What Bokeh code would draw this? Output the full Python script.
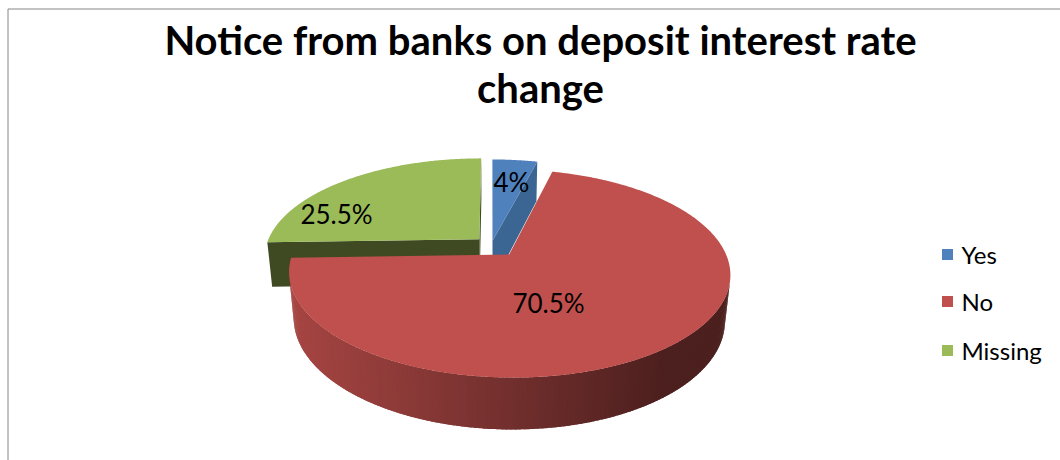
import math
import numpy as np
from bokeh.plotting import figure
from bokeh.models import Range1d
from bokeh.core.properties import value
from bokeh.embed import file_html
from bokeh.resources import INLINE

# ---------------- data ----------------
categories = ["Yes", "No", "Missing"]
percent = [4.0, 70.5, 25.5]
label_text = ["4%", "70.5%", "25.5%"]
title_lines = ["Notice from banks on deposit interest rate", "change"]

# ---------------- styles / layout ----------------
top_colors = ["#4F81BD", "#C0504D", "#9BBB59"]
cut_colors = ["#3B6592", "#8A3532", "#3F4A22"]
explode = [0.04, 0.13, 0.08]
label_xy = [(511, 181), (548, 302), (336, 213)]
legend_x = 947
legend_y = [254, 301, 350]

W, HP = 1060, 460
CX, CY = 491.0, 244.0
SCALE = 213.0
SIN_T = 0.4555
COS_T = math.sqrt(1 - SIN_T ** 2)
DIST = 4.97
THICK = 0.241
FONT = "Lato"


def proj(X, Z, Y):
    X = np.asarray(X, float)
    Z = np.asarray(Z, float)
    Y = np.asarray(Y, float) + 0 * X
    depth = 1.0 + (Z * COS_T - Y * SIN_T) / DIST
    sx = CX + SCALE * X / depth
    sy = CY - SCALE * (Z * SIN_T + Y * COS_T) / depth
    return sx, sy


def hex_scale(h, f):
    h = h.lstrip("#")
    r, g, b = (int(h[i:i + 2], 16) for i in (0, 2, 4))
    return "#%02x%02x%02x" % (int(r * f), int(g * f), int(b * f))


total = float(sum(percent))
bounds = np.concatenate([[0.0], np.cumsum(percent)]) / total * 2 * np.pi

slices = []
for i in range(len(percent)):
    a0, a1 = bounds[i], bounds[i + 1]
    m = 0.5 * (a0 + a1)
    slices.append(dict(i=i, a0=a0, a1=a1, ox=explode[i] * math.sin(m), oz=explode[i] * math.cos(m)))

order = sorted(range(len(slices)), key=lambda k: -slices[k]["oz"])

xs, ys, fills = [], [], []
cam_z = -DIST * COS_T

for k in order:
    s = slices[k]
    i, a0, a1, ox, oz = s["i"], s["a0"], s["a1"], s["ox"], s["oz"]
    # radial cut faces
    for ang, nx, nz in ((a0, -math.cos(a0), math.sin(a0)), (a1, math.cos(a1), -math.sin(a1))):
        if nx * (0 - ox) + nz * (cam_z - oz) > 0:
            X = [ox, ox + math.sin(ang), ox + math.sin(ang), ox]
            Z = [oz, oz + math.cos(ang), oz + math.cos(ang), oz]
            Y = [0, 0, -THICK, -THICK]
            sx, sy = proj(X, Z, Y)
            xs.append(list(sx)); ys.append(list(sy)); fills.append(cut_colors[i])
    # outer wall (overlapping strips, shaded left-to-right)
    n = max(4, int(math.degrees(a1 - a0)))
    th = np.linspace(a0, a1, n + 1)
    step = th[1] - th[0]
    for j in range(n):
        tm = 0.5 * (th[j] + th[j + 1])
        face = -1 - ox * math.sin(tm) - oz * math.cos(tm) + cam_z * math.cos(tm)
        if face <= 0:
            continue
        t_lo = th[j]
        t_hi = min(th[j + 1] + 0.8 * step, a1)
        tt_list = np.linspace(t_lo, t_hi, 3)
        top_t = list(tt_list)
        bot_t = list(tt_list[::-1])
        X = [ox + math.sin(t) for t in top_t + bot_t]
        Z = [oz + math.cos(t) for t in top_t + bot_t]
        Y = [0] * 3 + [-THICK] * 3
        sx, sy = proj(X, Z, Y)
        mx = float(np.mean(sx))
        tt = (mx - (CX - 0.94 * SCALE)) / (1.74 * SCALE)
        tt = min(max(tt, 0.0), 1.0)
        f = 0.87 - 0.47 * tt
        xs.append(list(sx)); ys.append(list(sy)); fills.append(hex_scale(top_colors[i], f))
    # top face
    th = np.linspace(a0, a1, max(8, int(math.degrees(a1 - a0)) * 2))
    X = [ox] + [ox + math.sin(t) for t in th]
    Z = [oz] + [oz + math.cos(t) for t in th]
    sx, sy = proj(X, Z, [0] * len(X))
    xs.append(list(sx)); ys.append(list(sy)); fills.append(top_colors[i])

p = figure(width=W, height=HP, x_range=Range1d(0, W), y_range=Range1d(HP, 0),
           output_backend="svg", toolbar_location=None, min_border=0)
p.axis.visible = False
p.grid.visible = False
p.outline_line_color = None
p.background_fill_color = "white"
p.border_fill_color = "white"

# chart border
p.quad(left=[7.5], right=[1075], top=[8.5], bottom=[475], fill_color=None,
       line_color="#868686", line_width=1)

p.patches(xs, ys, fill_color=fills, line_color=None)

# data labels
p.text(x=[q[0] for q in label_xy], y=[q[1] for q in label_xy], text=label_text,
       text_align="center", text_baseline="middle", text_font=value(FONT),
       text_font_size="26px", text_color="black")

# title
p.text(x=[540, 540], y=[39, 87], text=title_lines, text_align="center",
       text_baseline="alphabetic", text_font=value(FONT), text_font_style="bold",
       text_font_size="40px", text_color="black")

# legend
p.scatter(x=[legend_x] * 3, y=legend_y, marker="square", size=11,
          fill_color=top_colors, line_color=None)
p.text(x=[legend_x + 14] * 3, y=legend_y, text=categories, text_align="left",
       text_baseline="middle", text_font=value(FONT), text_font_size="24px",
       text_color="black")

open("out.html", "w").write(file_html(p, INLINE))
